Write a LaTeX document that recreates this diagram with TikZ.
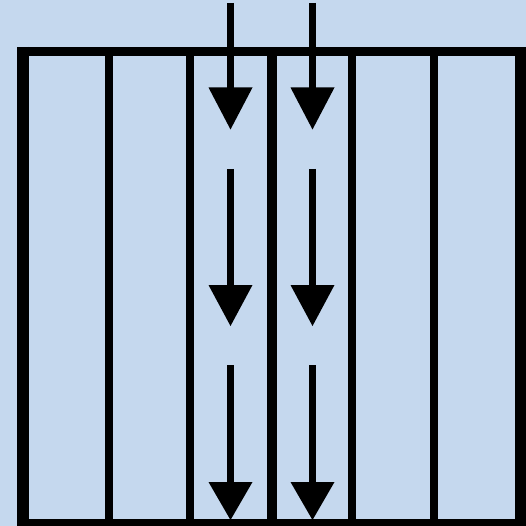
\documentclass[tikz,border=0pt]{standalone}
\definecolor{bgblue}{RGB}{197,216,238}
\tikzset{
  wall/.style={line width=#1, black, line cap=butt},
  shaft/.style={line width=7.5pt, black, line cap=butt},
  headfill/.style={fill=black},
}
\begin{document}
\begin{tikzpicture}[x=1pt,y=-1pt]
\fill[bgblue] (0,0) rectangle (526,526);
\useasboundingbox (0,0) rectangle (526,526);
% inner dividers
\foreach \xx in {109,190,352,434} {
  \coordinate (dt\xx) at (\xx,50);
  \coordinate (db\xx) at (\xx,526);
  \draw[wall=8pt] (dt\xx) -- (db\xx);
}
\coordinate (ct) at (272,50);
\coordinate (cb) at (272,526);
\draw[wall=10pt] (ct) -- (cb);
% outer frame
\coordinate (tl) at (17,51.5);
\coordinate (tr) at (526,51.5);
\draw[wall=9.5pt] (tl) -- (tr);
\coordinate (lt) at (23,47);
\coordinate (lb) at (23,526);
\draw[wall=12pt] (lt) -- (lb);
\coordinate (rt) at (521,47);
\coordinate (rb) at (521,526);
\draw[wall=12pt] (rt) -- (rb);
\coordinate (bl) at (17,522.5);
\coordinate (br) at (526,522.5);
\draw[wall=8pt] (bl) -- (br);
% arrows
\foreach \ax in {230.5,312.5} {
  \foreach \ys/\hy/\tipy in {3/87.5/129.5, 169/285/326, 365/482/520} {
    \coordinate (s) at (\ax,\ys);
    \coordinate (h) at (\ax,\hy+3);
    \draw[shaft] (s) -- (h);
    \fill[headfill] (\ax-22,\hy) -- (\ax+22,\hy) -- (\ax,\tipy) -- cycle;
  }
}
\end{tikzpicture}
\end{document}
